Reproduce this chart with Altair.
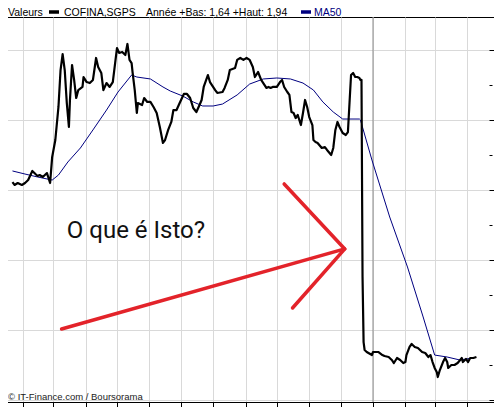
import altair as alt
import pandas as pd

BASE = pd.Timestamp("2005-01-01")

# COFINA,SGPS closing price (days counted from 2005-01-01, price in EUR)
price_days = [-345, -343, -340, -336, -333, -330, -326, -323, -321, -319, -316, -312, -309, -307,
              -304, -301, -299, -297, -295, -293, -291, -290, -288, -286, -284, -282, -278, -277,
              -274, -271, -268, -265, -263, -260, -258, -255, -252, -249, -245, -243, -240, -237,
              -235, -233, -231, -230, -228, -226, -225, -221, -219, -216, -213, -210, -207, -204,
              -201, -199, -196, -193, -191, -188, -185, -181, -178, -175, -172, -169, -166, -164,
              -162, -158, -156, -151, -149, -144, -142, -139, -137, -132, -130, -127, -124, -121,
              -118, -115, -113, -110, -107, -105, -102, -100, -98, -96, -92, -89, -87, -85,
              -82, -80, -78, -76, -74, -72, -69, -67, -65, -63, -61, -58, -57, -55,
              -53, -49, -46, -44, -40, -38, -36, -34, -32, -29, -26, -24, -21, -19,
              -17, -15, -13, -12, -11, -10, -9, -8, -6, -1, 0, 5, 9, 11,
              15, 18, 20, 23, 26, 29, 31, 32, 35, 37, 40, 43, 47, 50,
              53, 55, 57, 59, 61, 62, 64, 67, 69, 71, 72, 75, 78, 81,
              85, 86, 89, 91, 93, 96, 99]
price_vals = [3.057, 3.036, 3.05, 3.036, 3.05, 3.071, 3.136, 3.114, 3.1, 3.107, 3.093, 3.121, 3.05, 3.236,
              3.357, 3.593, 3.857, 3.971, 3.857, 3.621, 3.45, 3.643, 3.893, 3.786, 3.657, 3.714, 3.736, 3.807,
              3.771, 3.764, 3.786, 3.943, 3.879, 3.836, 3.714, 3.764, 3.736, 3.771, 4.014, 3.979, 3.986, 3.964,
              4.043, 3.929, 3.907, 3.836, 3.714, 3.55, 3.621, 3.607, 3.657, 3.629, 3.629, 3.593, 3.55, 3.45,
              3.336, 3.357, 3.429, 3.486, 3.571, 3.571, 3.621, 3.686, 3.686, 3.657, 3.586, 3.557, 3.607, 3.643,
              3.736, 3.821, 3.771, 3.714, 3.693, 3.7, 3.729, 3.786, 3.857, 3.871, 3.929, 3.943, 3.929, 3.943,
              3.929, 3.879, 3.807, 3.843, 3.786, 3.764, 3.729, 3.736, 3.729, 3.736, 3.736, 3.771, 3.786, 3.736,
              3.7, 3.679, 3.557, 3.55, 3.514, 3.536, 3.464, 3.55, 3.643, 3.593, 3.521, 3.464, 3.357, 3.343,
              3.336, 3.3, 3.307, 3.286, 3.25, 3.3, 3.429, 3.486, 3.45, 3.407, 3.393, 3.414, 3.821, 3.836,
              3.807, 3.807, 3.8, 3.786, 3.786, 2.379, 1.914, 1.857, 1.843, 1.821, 1.843, 1.843, 1.821, 1.814,
              1.807, 1.786, 1.764, 1.8, 1.786, 1.764, 1.771, 1.821, 1.879, 1.9, 1.879, 1.871, 1.843, 1.836,
              1.807, 1.821, 1.771, 1.729, 1.7, 1.664, 1.714, 1.771, 1.8, 1.771, 1.729, 1.75, 1.75, 1.764,
              1.8, 1.771, 1.793, 1.771, 1.8, 1.8, 1.807]

# 50-day moving average
ma_days = [-345, -333, -321, -307, -301, -292, -280, -268, -255, -244, -231, -226, -213, -201,
           -194, -182, -172, -163, -153, -144, -130, -118, -105, -92, -79, -67, -57, -48,
           -38, -29, -13, -12, -1, 16, 33, 48, 59, 71, 83, 96]
ma_vals = [3.136, 3.114, 3.093, 3.071, 3.107, 3.2, 3.3, 3.429, 3.571, 3.7, 3.821, 3.807, 3.793, 3.736,
           3.707, 3.671, 3.629, 3.6, 3.6, 3.614, 3.679, 3.757, 3.793, 3.8, 3.793, 3.764, 3.714, 3.629,
           3.557, 3.507, 3.507, 3.5, 3.214, 2.807, 2.45, 2.093, 1.821, 1.807, 1.786, 1.8]

# red hand-drawn arrow (in data coordinates)
arrow_part = ["shaft", "shaft", "head", "head", "head"]
arrow_step = [0, 1, 0, 1, 2]
arrow_days = [-298, -27, -85, -27, -77]
arrow_vals = [2.007, 2.579, 3.043, 2.579, 2.157]

note_days = [-293]
note_vals = [2.657]
note_text = ["O que é Isto?"]

year_start = [0]
y_ticks = [1.5, 1.75, 2.0, 2.25, 2.5, 2.75, 3.0, 3.25, 3.5, 3.75, 4.0]
month_names = ["janv.", "févr.", "mars", "avr.", "mai", "juin",
               "juil.", "août", "sept.", "oct.", "nov.", "déc."]

hdr_valeurs = "Valeurs"
hdr_name = "COFINA,SGPS"
hdr_range = "Année +Bas: 1,64 +Haut: 1,94"
hdr_ma = "MA50"
copyright_txt = "© IT-Finance.com / Boursorama"


def to_date(days):
    return [(BASE + pd.Timedelta(days=d)).strftime("%Y-%m-%d") for d in days]


price_df = pd.DataFrame({"date": to_date(price_days), "price": price_vals})
ma_df = pd.DataFrame({"date": to_date(ma_days), "price": ma_vals})
arrow_df = pd.DataFrame({"part": arrow_part, "step": arrow_step,
                         "date": to_date(arrow_days), "price": arrow_vals})
note_df = pd.DataFrame({"date": to_date(note_days), "price": note_vals, "t": note_text})
year_df = pd.DataFrame({"date": to_date(year_start)})

x_scale = alt.Scale(type="utc", domain=[
    alt.DateTime(year=2004, month=1, date=9, hours=2, minutes=24, utc=True),
    alt.DateTime(year=2005, month=4, date=26, hours=19, minutes=12, utc=True)])
y_scale = alt.Scale(domain=[1.4857, 4.2357], nice=False, zero=False)

major = "datum.value % 0.5 === 0"
month_expr = "[" + ",".join("'%s'" % m for m in month_names) + "][utcmonth(datum.value)]"
x_axis = alt.Axis(orient="bottom", title=None, grid=True, gridColor="#d9d9d9", gridWidth=1,
                  tickCount={"interval": "month", "step": 1}, domain=True,
                  domainColor="#000000", tickColor="#000000", tickSize=5,
                  labels=True, labelExpr=month_expr, labelFontSize=9,
                  labelFont="Liberation Sans", labelColor="#000000")
y_axis = alt.Axis(orient="right", title=None, values=y_ticks, grid=True, gridColor="#d9d9d9",
                  gridWidth=1,
                  gridOpacity={"condition": {"test": major, "value": 1}, "value": 0},
                  domain=False, offset=-5, tickColor="#000000",
                  tickSize={"condition": {"test": major, "value": 5}, "value": 3},
                  labels=True, labelPadding=6,
                  labelExpr="datum.value % 0.5 === 0 ? replace(format(datum.value, '.2f'), '.', ',') : ''",
                  labelFontSize=9, labelFont="Liberation Sans", labelColor="#000000")

X = alt.X("date:T", scale=x_scale, axis=x_axis)
Y = alt.Y("price:Q", scale=y_scale, axis=y_axis)

year_line = alt.Chart(year_df).mark_rule(color="#8c8c8c", strokeWidth=1).encode(x=X)

price = alt.Chart(price_df).mark_line(color="#000000", strokeWidth=2.2, strokeJoin="round").encode(
    x=X, y=Y)

ma = alt.Chart(ma_df).mark_line(color="#000080", strokeWidth=1).encode(x=X, y=Y)

arrow = alt.Chart(arrow_df).mark_line(color="#e3232a", strokeWidth=3.5, strokeCap="round",
                                      strokeJoin="round").encode(
    x=X, y=Y, detail="part:N", order="step:Q")

note = alt.Chart(note_df).mark_text(align="left", baseline="alphabetic",
                                    font="Roboto, sans-serif",
                                    fontSize=24, color="#111111").encode(
    x=X, y=Y, text="t:N")


def header_text(txt, px, color, size=10.5, py=-1):
    return alt.Chart(pd.DataFrame({"t": [txt]})).mark_text(
        align="left", baseline="alphabetic", font="Liberation Sans, Arial, sans-serif",
        fontSize=size, color=color).encode(x=alt.value(px), y=alt.value(py), text="t:N")


def swatch(x0, x1, color):
    return alt.Chart(pd.DataFrame({"s": [0]})).mark_rule(color=color, strokeWidth=3.5).encode(
        x=alt.value(x0), x2=alt.value(x1), y=alt.value(-5))


layers = [
    year_line, ma, price, arrow, note,
    header_text(hdr_valeurs, 9, "#000000"),
    swatch(50, 60, "#000000"),
    header_text(hdr_name, 65, "#000000"),
    header_text(hdr_range, 147, "#000000"),
    swatch(302, 312, "#000080"),
    header_text(hdr_ma, 315, "#000080"),
    header_text(copyright_txt, 9, "#222222", size=9.5, py=383),
]

chart = alt.layer(*layers).properties(
    width=495, height=385,
    autosize=alt.AutoSizeParams(type="none"),
    padding={"left": -9, "top": 9, "right": 0, "bottom": 5},
    background="white",
).configure_view(stroke="#000000", strokeWidth=1)

chart.save("out.html", embed_options={"renderer": "svg", "actions": False})
